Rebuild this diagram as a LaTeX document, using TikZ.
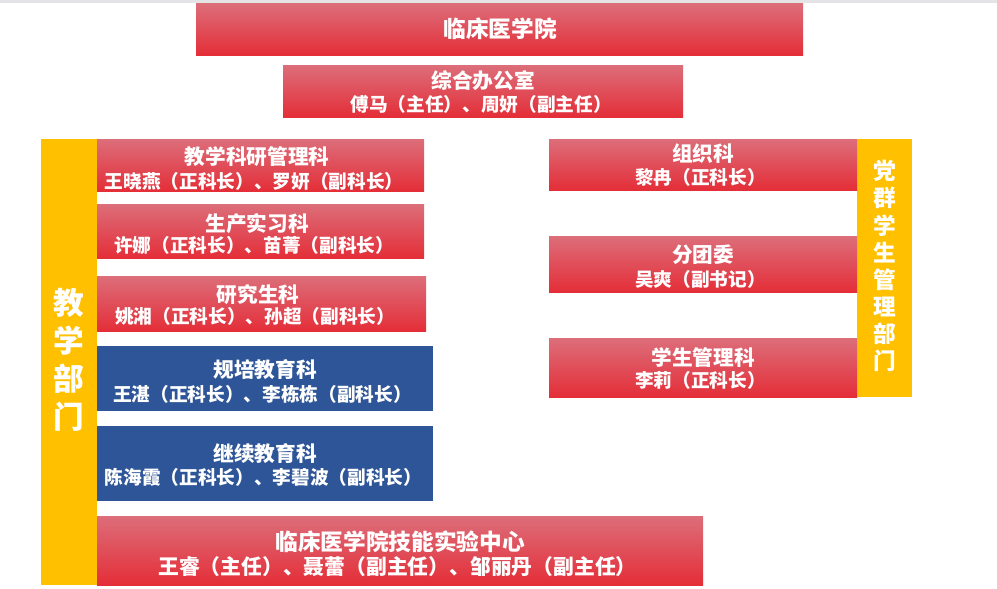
\documentclass[tikz,border=0pt]{standalone}
\usepackage{fontspec}
\setmainfont{Noto Sans CJK SC}
\definecolor{pinktop}{RGB}{220,110,122}
\definecolor{redbot}{RGB}{228,46,56}
\definecolor{bluebox}{RGB}{46,85,151}
\definecolor{goldbar}{RGB}{255,192,0}
\definecolor{topband}{RGB}{228,228,230}
\newcommand\orgrect[6]{% name, style, x1, y1, x2, y2
  \node[#2, minimum width={(#5-#3)*0.75pt}, minimum height={(#6-#4)*0.75pt}]
    (#1) at ({(#3+#5)/2},{(#4+#6)/2}) {};}
\tikzset{
  boxbase/.style={rectangle, inner sep=0pt, outer sep=0pt, draw=none},
  redbox/.style={boxbase, top color=pinktop, bottom color=redbot},
  bluerect/.style={boxbase, fill=bluebox},
  goldrect/.style={boxbase, fill=goldbar},
  txt/.style={text=white, inner sep=0pt, font=\bfseries},
  headA/.style={txt, font=\bfseries\fontsize{17}{20}\selectfont},
  headB/.style={txt, font=\bfseries\fontsize{15.5}{18}\selectfont},
  subA/.style={txt, font=\bfseries\fontsize{14}{16}\selectfont},
  subB/.style={txt, font=\bfseries\fontsize{15.6}{18}\selectfont},
  vleft/.style={txt, align=center, font=\bfseries\fontsize{23}{28.5}\selectfont},
  vright/.style={txt, align=center, font=\bfseries\fontsize{17}{20.3}\selectfont},
}
\begin{document}
\begin{tikzpicture}[x=0.75pt, y=-0.75pt]
\useasboundingbox (0,0) rectangle (997,589);
\fill[topband] (0,0) rectangle (997,3);
% top
\orgrect{college}{redbox}{196}{3}{803}{55}
\node[headA] (college-h) at (500,28.5) {临床医学院};
\orgrect{office}{redbox}{283}{65}{683}{117}
\node[headB] (office-h) at (483,81) {综合办公室};
\node[subA] (office-s) at (481,104.5) {傅马（主任）、周妍（副主任）};
% left bar
\orgrect{teach}{goldrect}{41}{139}{97}{585}
\node[vleft] (teach-t) at (69,360) {教\\学\\部\\门};
% left boxes
\orgrect{research}{redbox}{97}{139}{424}{191}
\node[headB] (research-h) at (257,157) {教学科研管理科};
\node[subA] (research-s) at (254,181) {王晓燕（正科长）、罗妍（副科长）};
\orgrect{practice}{redbox}{97}{204}{424}{258}
\node[headB] (practice-h) at (257,223.5) {生产实习科};
\node[subA] (practice-s) at (254,245) {许娜（正科长）、苗菁（副科长）};
\orgrect{grad}{redbox}{97}{276}{426}{331}
\node[headB] (grad-h) at (258,295) {研究生科};
\node[subA] (grad-s) at (255,316.5) {姚湘（正科长）、孙超（副科长）};
\orgrect{resid}{bluerect}{97}{346}{433}{411}
\node[headB] (resid-h) at (265,370) {规培教育科};
\node[subA] (resid-s) at (262.5,394) {王湛（正科长）、李栋栋（副科长）};
\orgrect{contin}{bluerect}{97}{426}{433}{501}
\node[headB] (contin-h) at (265,454) {继续教育科};
\node[subA] (contin-s) at (263.5,477) {陈海霞（正科长）、李碧波（副科长）};
\orgrect{skills}{redbox}{97}{516}{703}{585}
\node[headA] (skills-h) at (400,541.5) {临床医学院技能实验中心};
\node[subB] (skills-s) at (397.5,566.5) {王睿（主任）、聂蕾（副主任）、邹丽丹（副主任）};
% right bar
\orgrect{party}{goldrect}{857}{139}{912}{397}
\node[vright] (party-t) at (884.5,266) {党\\群\\学\\生\\管\\理\\部\\门};
% right boxes
\orgrect{organ}{redbox}{549}{139}{857}{190}
\node[headB] (organ-h) at (703,153.5) {组织科};
\node[subA] (organ-s) at (700.5,177.5) {黎冉（正科长）};
\orgrect{league}{redbox}{549}{236}{857}{292}
\node[headB] (league-h) at (703,255) {分团委};
\node[subA] (league-s) at (700.5,279.5) {吴爽（副书记）};
\orgrect{student}{redbox}{549}{338}{857}{397}
\node[headB] (student-h) at (703,357.5) {学生管理科};
\node[subA] (student-s) at (700.5,380.5) {李莉（正科长）};
\end{tikzpicture}
\end{document}
